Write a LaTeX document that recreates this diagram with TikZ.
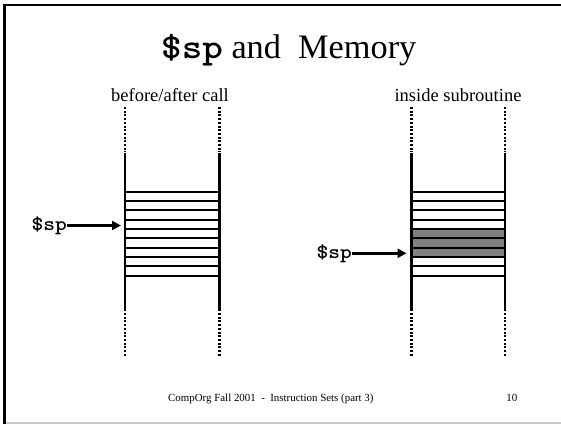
\documentclass[tikz,border=0pt]{standalone}
\usepackage{fontspec}
\setmainfont{Liberation Serif}
\newfontfamily\courfont{lmmonolt10-bold.otf}[FakeStretch=1.12]
\usetikzlibrary{arrows.meta}
\begin{document}
\begin{tikzpicture}[x=1pt,y=-1pt,
  rail/.style={line width=2.8pt},
  dotrail/.style={line width=2.8pt,dash pattern=on 2pt off 1.7pt},
  slot/.style={line width=1.8pt},
  spptr/.style={line width=3pt,-{Triangle[length=9pt,width=9pt]}},
  splabel/.style={font=\courfont\fontsize{20}{22}\selectfont,inner sep=0pt},
  sub/.style={font=\fontsize{18.5}{21}\selectfont,inner sep=0pt}]
\useasboundingbox (0,0) rectangle (561,424);
% frame
\draw[line width=2.5pt] (4.5,424) -- (4.5,5) -- (561,5);
\draw[line width=1.2pt,black!22] (6,423) -- (561,423);
% title
\node[anchor=base west,inner sep=0pt,font=\fontsize{34.3}{40}\selectfont] (title) at (161,58.5)
  {{\courfont\fontsize{35}{40}\selectfont\$sp} and\ \ Memory};
% subtitles
\node[sub,anchor=base] (lsub) at (170,101) {before/after call};
\node[sub,anchor=base] (rsub) at (458,101) {inside subroutine};
% left stack
\foreach \x in {125,219.3}{
  \draw[dotrail] (\x,107) -- (\x,152);
  \draw[rail] (\x,152.5) -- (\x,310.5);
  \draw[dotrail] (\x,313) -- (\x,356);
}
\foreach \i in {0,...,9}{
  \draw[slot] (125,191.7+9.33*\i) -- (219.3,191.7+9.33*\i);
}
% right stack
\fill[black!50] (411.7,229) rectangle (505,257);
\foreach \x in {411.7,505}{
  \draw[dotrail] (\x,107) -- (\x,152);
  \draw[rail] (\x,152.5) -- (\x,310.5);
  \draw[dotrail] (\x,313) -- (\x,356);
}
\foreach \i in {0,...,9}{
  \draw[slot] (411.7,191.7+9.33*\i) -- (505,191.7+9.33*\i);
}
% pointers
\node[splabel,anchor=east] (lsp) at (67,225.5) {\$sp};
\coordinate (ltip) at (121,225.5);
\draw[spptr] (lsp.east) -- (ltip);
\node[splabel,anchor=east] (rsp) at (352,253.3) {\$sp};
\coordinate (rtip) at (406.5,253.3);
\draw[spptr] (rsp.east) -- (rtip);
% footer
\node[anchor=base west,inner sep=0pt,font=\fontsize{10.9}{13}\selectfont] (foot) at (168,401.7)
  {CompOrg Fall 2001\ \ -\ \ Instruction Sets (part 3)};
\node[anchor=base east,inner sep=0pt,font=\fontsize{10.9}{13}\selectfont] (pnum) at (517.5,401.7) {10};
\end{tikzpicture}
\end{document}
